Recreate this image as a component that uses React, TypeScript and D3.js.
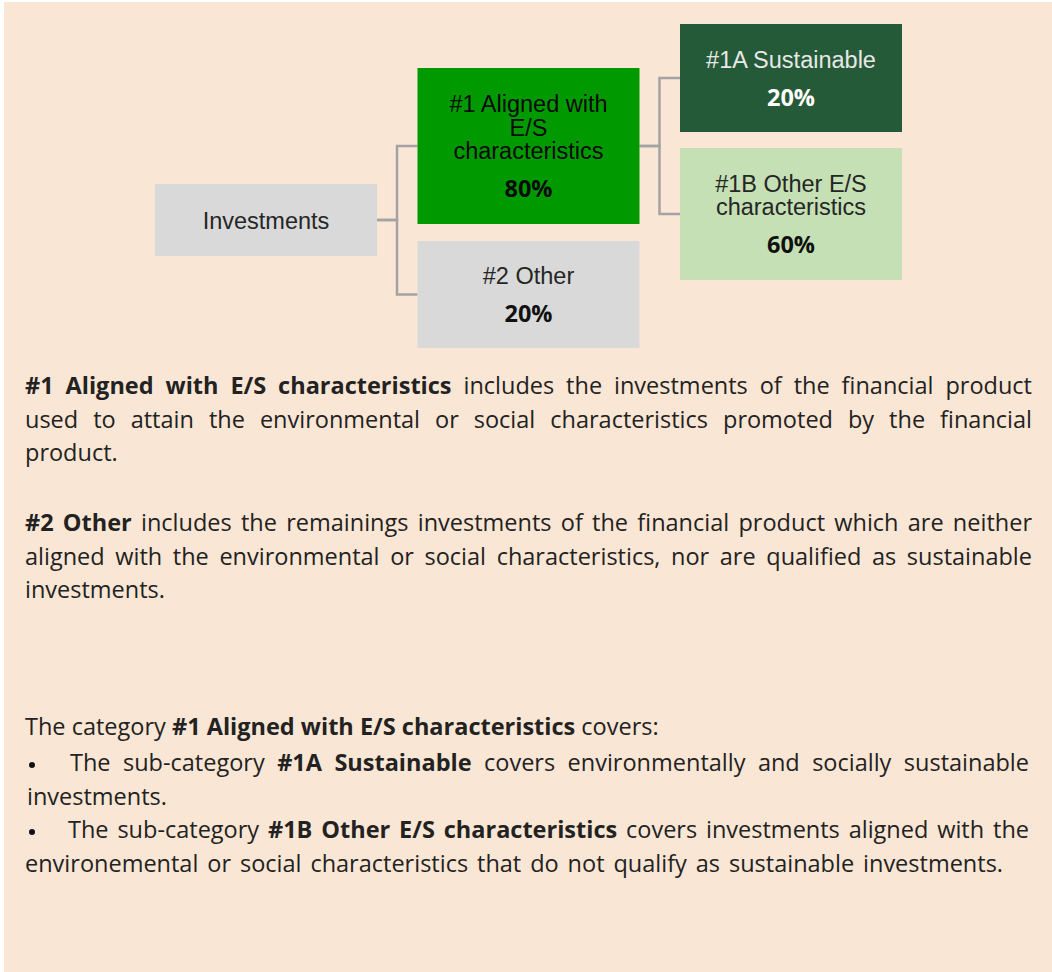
import React, { useEffect, useRef } from "react";
import * as d3 from "d3";

// ---------- data ----------
const NODE_IDS = ["inv", "n1", "n2", "n1a", "n1b"];
const NODE_PARENTS = [null, "inv", "inv", "n1", "n1"];
const NODE_LABELS = [
  ["Investments"],
  ["#1 Aligned with", "E/S", "characteristics"],
  ["#2 Other"],
  ["#1A Sustainable"],
  ["#1B Other E/S", "characteristics"],
];
const NODE_SHARES = [null, 80, 20, 20, 60];

const PARA1 = [
  "**#1 Aligned with E/S characteristics** includes the investments of the financial product",
  "used to attain the environmental or social characteristics promoted by the financial",
  "product.",
];
const PARA2 = [
  "**#2 Other** includes the remainings investments of the financial product which are neither",
  "aligned with the environmental or social characteristics, nor are qualified as sustainable",
  "investments.",
];
const PARA3 = [
  "The category **#1 Aligned with E/S characteristics** covers:",
  "The sub-category **#1A Sustainable** covers environmentally and socially sustainable",
  "investments.",
  "The sub-category **#1B Other E/S characteristics** covers investments aligned with the",
  "environemental or social characteristics that do not qualify as sustainable investments.",
];

// ---------- styles / layout ----------
const W = 1052;
const H = 972;
const BG = "#FAE6D4";
const BOX_W = 222;
const DEPTH = { inv: 0, n1: 1, n2: 1, n1a: 2, n1b: 2 };
const BOX_Y = { inv: [184, 256], n1: [68, 224], n2: [241, 348], n1a: [24, 132], n1b: [148, 280] };
const BOX_FILL = { inv: "#D9D9D9", n1: "#009A00", n2: "#D9D9D9", n1a: "#255A38", n1b: "#C5E0B4" };
const LABEL_COLOR = { inv: "#262626", n1: "#0A0A0A", n2: "#262626", n1a: "#E8E8E8", n1b: "#262626" };
const PCT_COLOR = { inv: "#111", n1: "#0A0A0A", n2: "#111", n1a: "#FFFFFF", n1b: "#111" };

const BODY_FONT = "'Open Sans', sans-serif";
const BODY_SIZE = 23.5;
const BOX_FONT = "'Liberation Sans', Arial, sans-serif";

function parseWords(line: string) {
  const parts = line.split("**");
  const words: { t: string; b: boolean }[] = [];
  parts.forEach((p, i) => {
    p.split(" ").filter((w) => w.length).forEach((w) => words.push({ t: w, b: i % 2 === 1 }));
  });
  return words;
}

export default function App() {
  const ref = useRef<SVGSVGElement>(null);

  useEffect(() => {
    const svg = d3.select(ref.current);
    svg.selectAll("*").remove();

    svg.append("rect").attr("x", 0).attr("y", 0).attr("width", W).attr("height", H).attr("fill", "#fff");
    svg.append("rect").attr("x", 4).attr("y", 2).attr("width", W - 4).attr("height", H - 2).attr("fill", BG);

    // ---- tree diagram ----
    const xScale = d3.scaleLinear().domain([0, 2]).range([155, 680]);
    const nodes = NODE_IDS.map((id, i) => {
      const [y0, y1] = BOX_Y[id];
      const x0 = xScale(DEPTH[id]);
      return { id, i, x0, x1: x0 + BOX_W, y0, y1, ym: (y0 + y1) / 2, parent: NODE_PARENTS[i] };
    });
    const byId = new Map(nodes.map((n) => [n.id, n]));

    const g = svg.append("g");
    const line = d3.line<[number, number]>();
    nodes.forEach((n) => {
      if (!n.parent) return;
      const p = byId.get(n.parent)!;
      const ex = p.x1 + 20;
      g.append("path")
        .attr("d", line([[p.x1, p.ym], [ex, p.ym], [ex, n.ym], [n.x0, n.ym]]))
        .attr("fill", "none")
        .attr("stroke", "#A3A3A3")
        .attr("stroke-width", 2.5);
    });

    const cap = 17;
    const lh = 23.5;
    const pctGap = 38;
    nodes.forEach((n) => {
      g.append("rect")
        .attr("x", n.x0)
        .attr("y", n.y0)
        .attr("width", n.x1 - n.x0)
        .attr("height", n.y1 - n.y0)
        .attr("fill", BOX_FILL[n.id]);
      const labels = NODE_LABELS[n.i];
      const share = NODE_SHARES[n.i];
      const blockH = cap + (labels.length - 1) * lh + (share != null ? pctGap : 0);
      const top = n.ym - blockH / 2;
      const cx = (n.x0 + n.x1) / 2;
      labels.forEach((t, k) => {
        g.append("text")
          .attr("x", cx)
          .attr("y", top + cap + k * lh)
          .attr("text-anchor", "middle")
          .attr("font-family", BOX_FONT)
          .attr("font-size", 23.5)
          .attr("fill", LABEL_COLOR[n.id])
          .text(t);
      });
      if (share != null) {
        g.append("text")
          .attr("x", cx)
          .attr("y", top + cap + (labels.length - 1) * lh + pctGap)
          .attr("text-anchor", "middle")
          .attr("font-family", BODY_FONT)
          .attr("font-weight", 700)
          .attr("font-size", 23.5)
          .attr("fill", PCT_COLOR[n.id])
          .text(`${share}%`);
      }
    });

    // ---- paragraphs ----
    const tg = svg.append("g").attr("font-family", BODY_FONT).attr("font-size", BODY_SIZE).attr("fill", "#222");
    const spaceW = BODY_SIZE * 0.26;
    function layLine(text: string, x0: number, x1: number, y: number, justify: boolean) {
      const words = parseWords(text);
      const els = words.map((w) =>
        tg.append("text").attr("y", y).attr("font-weight", w.b ? 700 : 400).text(w.t)
      );
      const widths = els.map((e) => (e.node() as SVGTextElement).getComputedTextLength());
      const total = d3.sum(widths);
      const gap = justify && words.length > 1 ? (x1 - x0 - total) / (words.length - 1) : spaceW;
      let x = x0;
      els.forEach((e, k) => {
        e.attr("x", x);
        x += widths[k] + gap;
      });
    }
    function bullet(x: number, y: number) {
      tg.append("circle").attr("cx", x).attr("cy", y).attr("r", 3).attr("fill", "#111");
    }

    const L = 25;
    const R = 1032;
    layLine(PARA1[0], L, R, 394, true);
    layLine(PARA1[1], L, R, 428, true);
    layLine(PARA1[2], L, R, 461, false);

    layLine(PARA2[0], L, R, 531, true);
    layLine(PARA2[1], L, R, 565, true);
    layLine(PARA2[2], L, R, 598, false);

    layLine(PARA3[0], L, R, 735, false);
    bullet(32, 765);
    layLine(PARA3[1], 70, 1029, 771, true);
    layLine(PARA3[2], 27, R, 805, false);
    bullet(32, 832);
    layLine(PARA3[3], 68, 1029, 838, true);
    layLine(PARA3[4], L, 1003, 872, true);
  }, []);

  return (
    <svg
      ref={ref}
      width={W}
      height={H}
      style={{ position: "absolute", left: 0, top: 0, display: "block" }}
    />
  );
}
